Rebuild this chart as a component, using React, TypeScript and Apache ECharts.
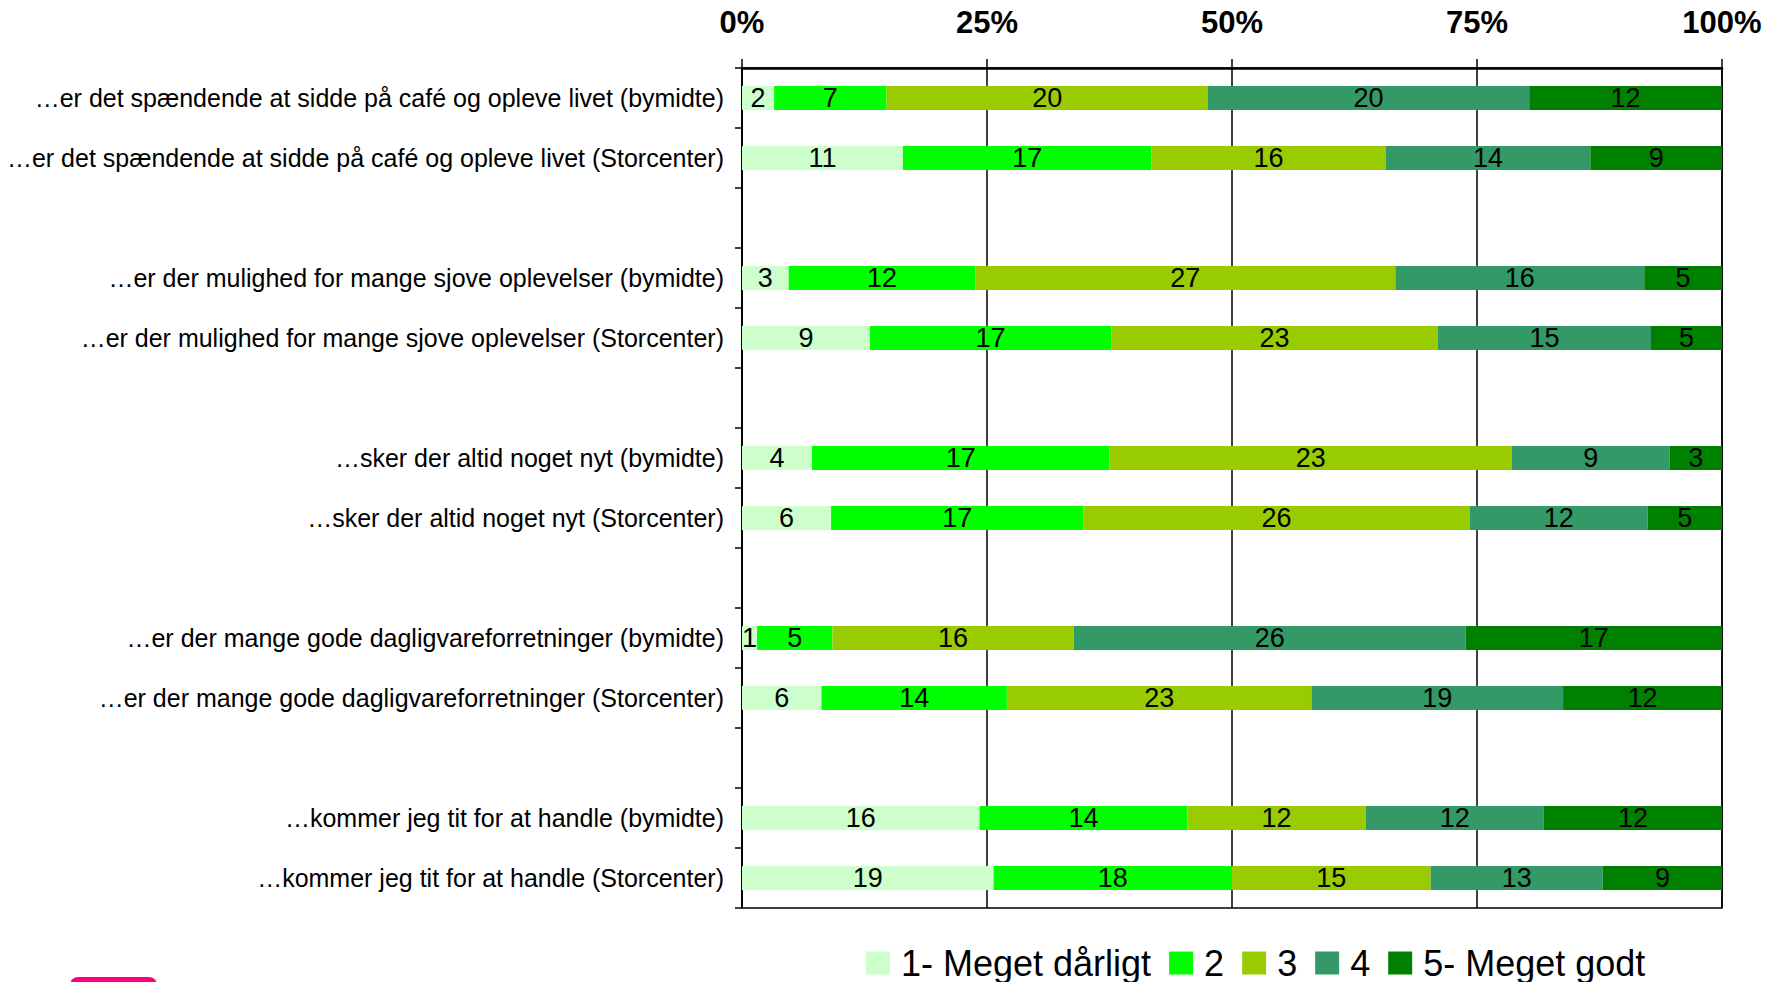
import React, { useEffect, useRef } from "react";
import * as echarts from "echarts";

const categories = [
  "…er det spændende at sidde på café og opleve livet (bymidte)",
  "…er det spændende at sidde på café og opleve livet (Storcenter)",
  "",
  "…er der mulighed for mange sjove oplevelser (bymidte)",
  "…er der mulighed for mange sjove oplevelser (Storcenter)",
  " ",
  "…sker der altid noget nyt (bymidte)",
  "…sker der altid noget nyt (Storcenter)",
  "  ",
  "…er der mange gode dagligvareforretninger (bymidte)",
  "…er der mange gode dagligvareforretninger (Storcenter)",
  "   ",
  "…kommer jeg tit for at handle (bymidte)",
  "…kommer jeg tit for at handle (Storcenter)",
];

const seriesNames = ["1- Meget dårligt", "2", "3", "4", "5- Meget godt"];
const seriesColors = ["#CCFFCC", "#00FF00", "#99CC00", "#339966", "#008000"];

// counts per answer category (null = spacer row)
const s1 = [2, 11, null, 3, 9, null, 4, 6, null, 1, 6, null, 16, 19];
const s2 = [7, 17, null, 12, 17, null, 17, 17, null, 5, 14, null, 14, 18];
const s3 = [20, 16, null, 27, 23, null, 23, 26, null, 16, 23, null, 12, 15];
const s4 = [20, 14, null, 16, 15, null, 9, 12, null, 26, 19, null, 12, 13];
const s5 = [12, 9, null, 5, 5, null, 3, 5, null, 17, 12, null, 12, 9];

const xTicks = [0, 25, 50, 75, 100];

const FONT = "'Liberation Sans', Arial, Helvetica, sans-serif";

export default function App() {
  const ref = useRef<HTMLDivElement>(null);

  useEffect(() => {
    if (!ref.current) return;
    const chart = echarts.init(ref.current, null, { renderer: "svg" });
    const counts = [s1, s2, s3, s4, s5];
    const totals = categories.map((_, i) => {
      let t = 0;
      let any = false;
      counts.forEach((s) => {
        if (s[i] != null) {
          t += s[i] as number;
          any = true;
        }
      });
      return any ? t : null;
    });

    const series = counts.map((s, k) => ({
      name: seriesNames[k],
      type: "bar",
      stack: "total",
      barWidth: 24,
      itemStyle: { color: seriesColors[k] },
      label: {
        show: true,
        position: "inside",
        color: "#000",
        fontSize: 27,
        fontFamily: FONT,
        formatter: (p: any) => {
          const c = s[p.dataIndex];
          return c == null ? "" : String(c);
        },
      },
      data: s.map((v, i) =>
        v == null || totals[i] == null ? null : ((v as number) / (totals[i] as number)) * 100
      ),
    }));

    chart.setOption({
      animation: false,
      backgroundColor: "#fff",
      textStyle: { fontFamily: FONT },
      grid: {
        left: 742,
        right: 49,
        top: 68,
        bottom: 74,
        show: true,
        borderColor: "#000",
        borderWidth: 1.5,
        backgroundColor: "transparent",
      },
      xAxis: {
        type: "value",
        position: "top",
        min: xTicks[0],
        max: xTicks[xTicks.length - 1],
        interval: 25,
        axisLine: { show: true, lineStyle: { color: "#000", width: 2.5 } },
        axisTick: { show: true, inside: false, length: 9, lineStyle: { color: "#000", width: 1.5 } },
        axisLabel: {
          show: true,
          formatter: (v: number) => (xTicks.includes(v) ? v + "%" : ""),
          color: "#000",
          fontWeight: "bold",
          fontSize: 31,
          fontFamily: FONT,
          margin: 30,
        },
        splitLine: { show: true, lineStyle: { color: "#000", width: 1.5 } },
      },
      yAxis: {
        type: "category",
        inverse: true,
        data: categories,
        axisLine: { show: true, lineStyle: { color: "#000", width: 1.5 } },
        axisTick: { show: true, inside: false, length: 7, lineStyle: { color: "#000", width: 1.5 } },
        axisLabel: {
          color: "#000",
          fontSize: 25,
          fontFamily: FONT,
          margin: 18,
          interval: 0,
        },
        splitLine: { show: false },
      },
      legend: {
        data: seriesNames,
        left: 861,
        top: 940,
        itemWidth: 24,
        itemHeight: 23,
        itemGap: 18,
        icon: "rect",
        textStyle: { fontSize: 36, color: "#000", fontFamily: FONT, padding: [0, 0, 0, 6] },
      },
      graphic: [
        {
          type: "rect",
          left: 70,
          top: 977,
          shape: { width: 87, height: 30, r: 8 },
          style: { fill: "#FF0080" },
        },
      ],
      series,
    });

    return () => chart.dispose();
  }, []);

  return (
    <div
      ref={ref}
      style={{ position: "absolute", left: 0, top: 0, width: 1771, height: 982 }}
    />
  );
}
